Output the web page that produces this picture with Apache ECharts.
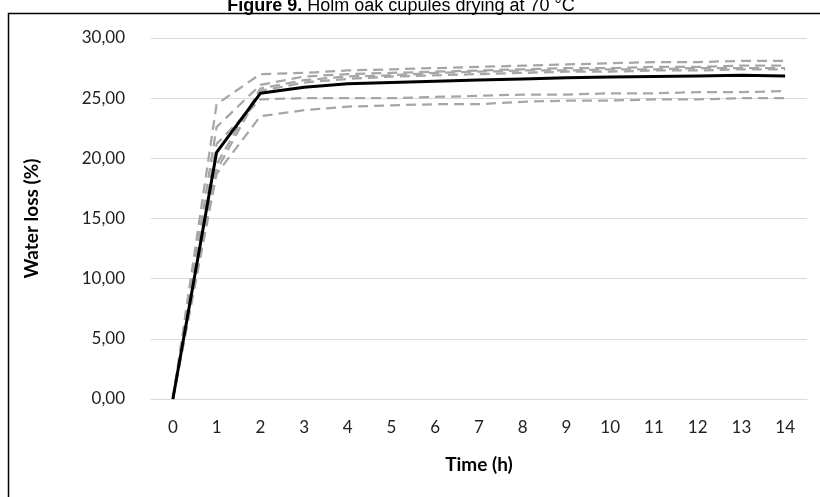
<!DOCTYPE html>
<html>
<head>
<meta charset="utf-8">
<script src="https://cdn.jsdelivr.net/npm/echarts@6/dist/echarts.min.js"></script>
<style>
html,body{margin:0;padding:0;background:#fff;}
#chart{width:820px;height:497px;}
</style>
</head>
<body>
<div id="chart"></div>
<script>
var titleBold = "Figure 9.";
var titleRest = " Holm oak cupules drying at 70 °C";
var xName = "Time (h)";
var yName = "Water loss (%)";
var categories = ["0","1","2","3","4","5","6","7","8","9","10","11","12","13","14"];
var meanSeries = [0, 20.5, 25.4, 25.9, 26.2, 26.3, 26.4, 26.5, 26.6, 26.7, 26.75, 26.8, 26.85, 26.9, 26.85];
var sampleA = [0, 24.5, 27.0, 27.1, 27.3, 27.4, 27.5, 27.6, 27.7, 27.8, 27.9, 28.0, 28.0, 28.1, 28.1];
var sampleB = [0, 22.6, 26.1, 26.8, 27.0, 27.1, 27.2, 27.3, 27.4, 27.5, 27.5, 27.6, 27.6, 27.7, 27.7];
var sampleC = [0, 19.5, 25.8, 26.5, 26.8, 26.9, 27.1, 27.2, 27.3, 27.3, 27.4, 27.4, 27.5, 27.5, 27.5];
var sampleD = [0, 19.0, 25.6, 26.3, 26.6, 26.8, 26.9, 27.0, 27.1, 27.2, 27.2, 27.3, 27.3, 27.4, 27.4];
var sampleE = [0, 21.2, 24.9, 25.0, 25.0, 25.0, 25.1, 25.2, 25.3, 25.3, 25.4, 25.4, 25.5, 25.5, 25.6];
var sampleF = [0, 18.7, 23.5, 24.0, 24.3, 24.4, 24.5, 24.5, 24.7, 24.8, 24.8, 24.9, 24.9, 25.0, 25.0];
var samples = [sampleA, sampleB, sampleC, sampleD, sampleE, sampleF];

var chart = echarts.init(document.getElementById('chart'), null, {renderer: 'canvas'});
var labelFont = 'Lato, "Open Sans", sans-serif';
var series = samples.map(function (s) {
  return {
    type: 'line', data: s, symbol: 'none', silent: true,
    lineStyle: {color: '#a6a6a6', width: 2.25, type: [10, 6]}
  };
});
series.push({
  type: 'line', data: meanSeries, symbol: 'none', silent: true,
  lineStyle: {color: '#000000', width: 3}
});
chart.setOption({
  animation: false,
  backgroundColor: '#ffffff',
  grid: {left: 151, right: 13, top: 38, bottom: 98, containLabel: false},
  graphic: [
    {type: 'rect', shape: {x: 8.5, y: 13.5, width: 830, height: 500},
     style: {fill: 'none', stroke: '#000', lineWidth: 1.5}},
    {type: 'text', x: 401, y: 6, style: {
      text: '{b|' + titleBold + '}{n|' + titleRest + '}',
      align: 'center', verticalAlign: 'middle',
      rich: {
        b: {fontFamily: '"Liberation Sans", Arial, sans-serif', fontWeight: 'bold', fontSize: 18, fill: '#000'},
        n: {fontFamily: '"Liberation Sans", Arial, sans-serif', fontSize: 18, fill: '#000'}
      }
    }}
  ],
  xAxis: {
    type: 'category', data: categories, boundaryGap: true,
    name: xName, nameLocation: 'middle', nameGap: 56,
    nameTextStyle: {fontFamily: labelFont, fontWeight: 'bold', fontSize: 19, color: '#000'},
    axisLine: {show: true, lineStyle: {color: '#d9d9d9', width: 1}},
    axisTick: {show: false},
    axisLabel: {fontFamily: labelFont, fontSize: 17, color: '#222', margin: 20}
  },
  yAxis: {
    type: 'value', min: 0, max: 30, interval: 5,
    name: yName, nameLocation: 'middle', nameGap: 110,
    nameTextStyle: {fontFamily: labelFont, fontWeight: 'bold', fontSize: 19, color: '#000'},
    axisLine: {show: false}, axisTick: {show: false},
    axisLabel: {fontFamily: labelFont, fontSize: 17, color: '#222', margin: 26,
      formatter: function (v) { return v.toFixed(2).replace('.', ','); }},
    splitLine: {lineStyle: {color: '#d9d9d9', width: 1}}
  },
  series: series
});
</script>
</body>
</html>
